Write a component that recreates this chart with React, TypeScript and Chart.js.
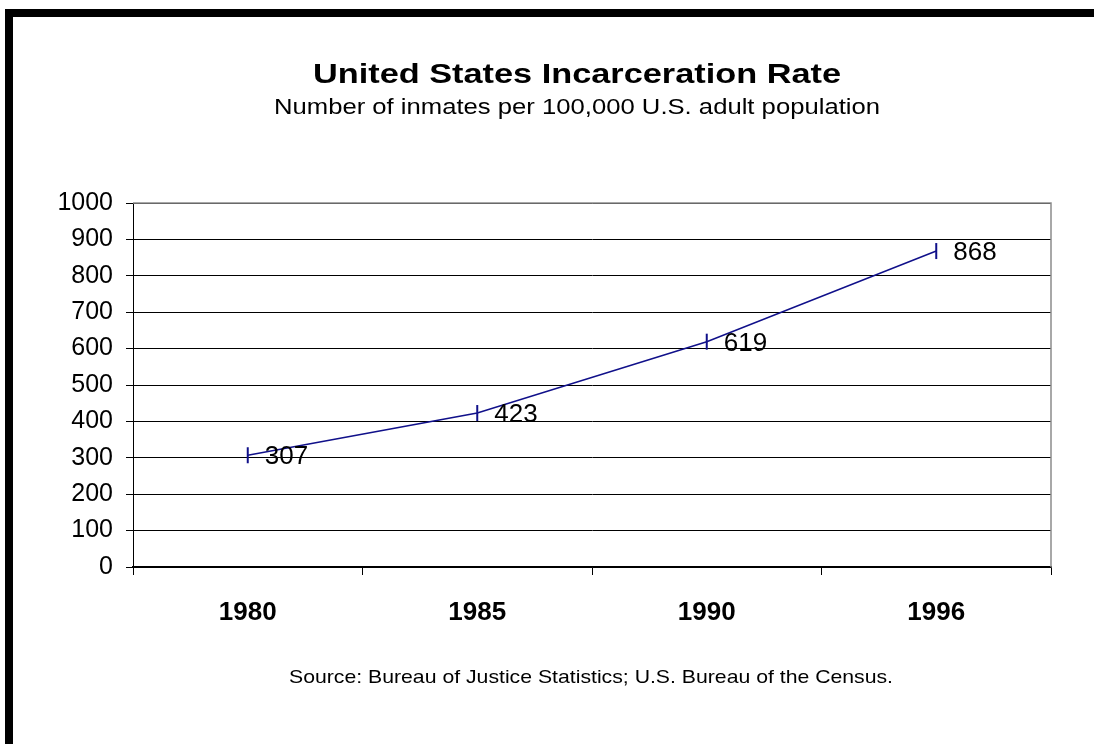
import React, { useEffect, useRef } from "react";
import { Chart, registerables } from "chart.js";

Chart.register(...registerables);

const years = ["1980", "1985", "1990", "1996"];
const rates = [307, 423, 619, 868];
const yTicks = [0, 100, 200, 300, 400, 500, 600, 700, 800, 900, 1000];

const titleText = "United States Incarceration Rate";
const subtitleText = "Number of inmates per 100,000 U.S. adult population";
const sourceText = "Source: Bureau of Justice Statistics; U.S. Bureau of the Census.";

const FONT = "'Liberation Sans', Arial, Helvetica, sans-serif";
const LINE_COLOR = "#10108a";

function stretchedText(ctx: CanvasRenderingContext2D, text: string, cx: number, y: number, font: string, targetWidth: number) {
  ctx.save();
  ctx.font = font;
  ctx.textAlign = "left";
  ctx.textBaseline = "alphabetic";
  const w = ctx.measureText(text).width;
  const sx = targetWidth / w;
  ctx.translate(cx - targetWidth / 2, y);
  ctx.scale(sx, 1);
  ctx.fillText(text, 0, 0);
  ctx.restore();
}

export default function App() {
  const ref = useRef<HTMLCanvasElement | null>(null);

  useEffect(() => {
    document.body.style.margin = "0";
    document.body.style.overflow = "hidden";
    const canvas = ref.current;
    if (!canvas) return;

    const textPlugin = {
      id: "texts",
      beforeDatasetsDraw(chart: any) {
        const { ctx, chartArea } = chart;
        ctx.save();
        ctx.strokeStyle = "#8c8c8c";
        ctx.lineWidth = 1.5;
        ctx.beginPath();
        ctx.moveTo(chartArea.left, chartArea.top);
        ctx.lineTo(chartArea.right, chartArea.top);
        ctx.lineTo(chartArea.right, chartArea.bottom);
        ctx.stroke();
        ctx.restore();
      },
      afterDraw(chart: any) {
        const { ctx } = chart;
        ctx.save();
        ctx.fillStyle = "#000";
        stretchedText(ctx, titleText, 577, 83, `bold 28px ${FONT}`, 528);
        stretchedText(ctx, subtitleText, 577, 114, `22px ${FONT}`, 606);
        stretchedText(ctx, sourceText, 591, 683, `19px ${FONT}`, 604);

        // data labels
        const meta = chart.getDatasetMeta(0);
        ctx.font = `26px ${FONT}`;
        ctx.textAlign = "left";
        ctx.textBaseline = "middle";
        meta.data.forEach((pt: any, i: number) => {
          ctx.fillText(String(rates[i]), pt.x + 17, pt.y + 2);
        });
        ctx.restore();
      },
    };

    const chart = new Chart(canvas, {
      type: "line",
      data: {
        labels: years,
        datasets: [
          {
            data: rates,
            borderColor: LINE_COLOR,
            backgroundColor: LINE_COLOR,
            borderWidth: 1.5,
            tension: 0,
            pointStyle: "line",
            rotation: 90,
            pointRadius: 8,
            pointBorderWidth: 2,
            pointBorderColor: LINE_COLOR,
          } as any,
        ],
      },
      options: {
        responsive: false,
        animation: false,
        layout: { padding: { top: 203, right: 43, left: 0, bottom: 0 } },
        plugins: {
          legend: { display: false },
          title: { display: false },
          tooltip: { enabled: false },
        },
        scales: {
          x: {
            type: "category",
            offset: true,
            grid: {
              offset: true,
              drawOnChartArea: false,
              drawTicks: true,
              tickLength: 8,
              color: "#000",
            },
            border: { color: "#000", width: 1.5 },
            ticks: {
              color: "#000",
              font: { family: FONT, size: 26, weight: "bold" },
              padding: 22,
              maxRotation: 0,
            },
            afterFit(scale: any) {
              scale.height = 744 - 567;
            },
          },
          y: {
            min: 0,
            max: 1000,
            afterBuildTicks(scale: any) {
              scale.ticks = yTicks.map((v) => ({ value: v }));
            },
            grid: {
              color: "#000",
              lineWidth: 1,
              drawTicks: true,
              tickLength: 7,
            },
            border: { color: "#000", width: 1 },
            ticks: {
              color: "#000",
              font: { family: FONT, size: 25 },
              padding: 13,
              callback: (v: any) => String(v),
            },
            afterFit(scale: any) {
              scale.width = 133;
            },
          },
        },
      },
      plugins: [textPlugin],
    });

    return () => chart.destroy();
  }, []);

  return (
    <div style={{ position: "fixed", left: 0, top: 0, width: 1094, height: 744, background: "#fff", overflow: "hidden" }}>
      <div
        style={{
          position: "absolute",
          left: 5,
          top: 9,
          width: 1200,
          height: 900,
          borderLeft: "8px solid #000",
          borderTop: "8px solid #000",
        }}
      />
      <canvas ref={ref} width={1094} height={744} style={{ position: "absolute", left: 0, top: 0 }} />
    </div>
  );
}
